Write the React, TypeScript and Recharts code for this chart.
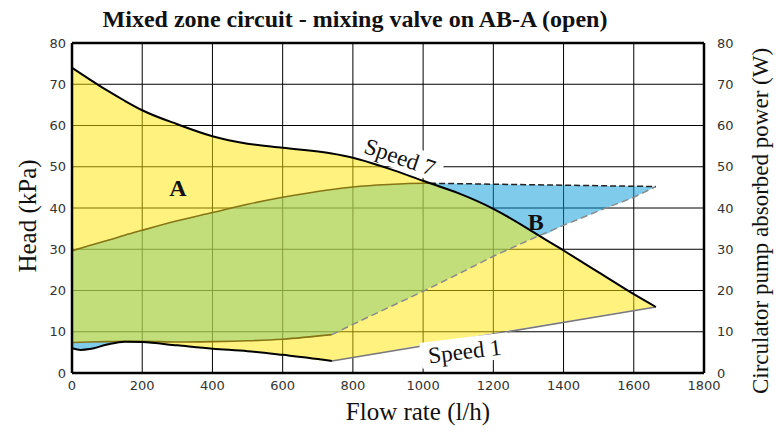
import React from 'react';
import {
  ComposedChart,
  Area,
  Line,
  XAxis,
  YAxis,
  CartesianGrid,
  ReferenceDot,
  ReferenceLine,
} from 'recharts';

// ---- ticks ----
const xTicks = [0, 200, 400, 600, 800, 1000, 1200, 1400, 1600, 1800];
const yTicks = [0, 10, 20, 30, 40, 50, 60, 70, 80];

// ---- yellow zone (between Speed 7 and the minimum curve / Speed 1) ----
const yellowFlow = [0, 50, 100, 150, 200, 300, 400, 500, 600, 740, 800, 900, 1000, 1020, 1100, 1200, 1300, 1330, 1400, 1500, 1600, 1663];
const speed7Head = [74, 71.2, 68.5, 66, 63.7, 60.3, 57.4, 55.6, 54.6, 53.2, 52.2, 49.6, 46.6, 46, 43.6, 39.8, 34.9, 33.3, 29.7, 24.4, 19.1, 16.0];
const yellowLow = [7.4, 7.5, 7.6, 7.7, 7.5, 6.7, 5.9, 5.3, 4.4, 2.9, 3.8, 5.3, 6.9, 7.2, 8.3, 9.7, 11.1, 11.5, 12.5, 13.9, 15.3, 16.0];

// ---- minimum curve (left part of Speed 1) ----
const minFlow = [0, 25, 50, 100, 150, 200, 300, 400, 500, 600, 700, 740];
const minHead = [6.0, 5.6, 5.8, 6.9, 7.6, 7.5, 6.7, 5.9, 5.3, 4.4, 3.4, 2.9];

// ---- Speed 1 straight part ----
const speed1Flow = [740, 1663];
const speed1Head = [2.9, 16.0];

// ---- green zone A ----
const greenFlow = [0, 50, 100, 150, 200, 300, 400, 500, 600, 740, 800, 900, 1000, 1020, 1100, 1200, 1300, 1330];
const greenHigh = [29.6, 30.9, 32.1, 33.4, 34.6, 36.9, 38.9, 40.9, 42.6, 44.5, 45.1, 45.7, 46, 46, 43.6, 39.8, 34.9, 33.3];
const greenLow = [7.4, 7.5, 7.6, 7.7, 7.7, 7.5, 7.6, 7.8, 8.2, 9.3, 11.8, 15.8, 19.8, 20.7, 24, 28.3, 32.2, 33.3];
const greenTopFlow = [0, 50, 100, 150, 200, 300, 400, 500, 600, 740, 800, 900, 1000, 1020];
const greenTopHead = [29.6, 30.9, 32.1, 33.4, 34.6, 36.9, 38.9, 40.9, 42.6, 44.5, 45.1, 45.7, 46, 46];
const greenBottomFlow = [0, 50, 100, 150, 200, 300, 400, 500, 600, 740];
const greenBottomHead = [7.4, 7.5, 7.6, 7.7, 7.7, 7.5, 7.6, 7.8, 8.2, 9.3];

// ---- blue zone B ----
const blueFlow = [1020, 1100, 1200, 1300, 1330, 1400, 1500, 1600, 1663];
const blueHigh = [46, 45.9, 45.8, 45.6, 45.6, 45.5, 45.4, 45.3, 45.2];
const blueLow = [46, 43.6, 39.8, 34.9, 33.3, 35.8, 39.3, 42.6, 45.2];

// ---- small blue band at low flow ----
const bandFlow = [0, 25, 50, 100, 150, 180];
const bandLow = [6.0, 5.6, 5.8, 6.9, 7.6, 7.7];
const bandHigh = [7.4, 7.4, 7.5, 7.6, 7.7, 7.7];

// ---- power curves (dashed, right axis W) ----
const powerLowFlow = [740, 800, 900, 1000, 1100, 1200, 1330, 1400, 1500, 1600, 1663];
const powerLowW = [9.3, 11.8, 15.8, 19.8, 24, 28.3, 33.3, 35.8, 39.3, 42.6, 45.2];
const powerHighFlow = [1020, 1663];
const powerHighW = [46, 45.2];

// ---- annotations ----
const annotations = [
  { text: 'Speed 7', x: 934, y: 52.3, angle: 19, bold: false, box: true },
  { text: 'Speed 1', x: 1119, y: 5.2, angle: -7, bold: false, box: true },
  { text: 'A', x: 302, y: 44.8, angle: 0, bold: true, box: false },
  { text: 'B', x: 1321, y: 36.6, angle: 0, bold: true, box: false },
];

const zip = (xs: number[], ys: number[]) => xs.map((x, i) => ({ x, v: ys[i] }));
const zipRange = (xs: number[], lo: number[], hi: number[]) =>
  xs.map((x, i) => ({ x, r: [lo[i], hi[i]] }));

const yellowData = zipRange(yellowFlow, yellowLow, speed7Head);
const greenData = zipRange(greenFlow, greenLow, greenHigh);
const blueData = zipRange(blueFlow, blueLow, blueHigh);
const bandData = zipRange(bandFlow, bandLow, bandHigh);

const SERIF = '"Liberation Serif", "DejaVu Serif", serif';
const SANS = '"DejaVu Sans", sans-serif';

const tickStyle = { fontFamily: SANS, fontSize: 13, fill: '#333' };

const AnnotationShape = (a: any) => (p: any) => {
  const { cx, cy } = p;
  if (cx == null || cy == null) return <g />;
  const fs = a.bold ? 24 : 23;
  const w = a.text.length * 11.5 + 8;
  return (
    <g transform={`translate(${cx},${cy}) rotate(${a.angle})`}>
      {a.box && <rect x={-w / 2} y={-14} width={w} height={26} fill="#fff" />}
      <text
        x={0}
        y={0}
        textAnchor="middle"
        dominantBaseline="central"
        fontFamily={SERIF}
        fontSize={fs}
        fontWeight={a.bold ? 700 : 400}
        fill="#111"
      >
        {a.text}
      </text>
    </g>
  );
};

export default function App() {
  return (
    <div style={{ position: 'absolute', left: 0, top: 0, width: 776, height: 434, background: '#fff' }}>
      <div
        style={{
          position: 'absolute',
          left: 0,
          width: 710,
          top: 5,
          textAlign: 'center',
          fontFamily: SERIF,
          fontWeight: 700,
          fontSize: 24,
          lineHeight: '28px',
          color: '#111',
        }}
      >
        Mixed zone circuit - mixing valve on AB-A (open)
      </div>
      <ComposedChart width={776} height={434} margin={{ top: 43, right: 0, bottom: 0, left: 0 }}>
        <CartesianGrid yAxisId="left" stroke="#000" strokeWidth={1} />
        <XAxis
          type="number"
          dataKey="x"
          domain={[0, 1800]}
          ticks={xTicks}
          allowDataOverflow
          height={61}
          tickLine={false}
          axisLine={{ stroke: '#000', strokeWidth: 2.5 }}
          tick={tickStyle}
          label={{
            content: (p: any) => {
              const vb = p.viewBox || { x: 72, y: 373, width: 632, height: 61 };
              const cx = vb.x + vb.width / 2 + 30;
              return (
                <text x={cx} y={vb.y + 38} textAnchor="middle" dominantBaseline="central" fontFamily={SERIF} fontSize={25} fill="#111">
                  Flow rate (l/h)
                </text>
              );
            },
          }}
        />
        <YAxis
          yAxisId="left"
          type="number"
          domain={[0, 80]}
          ticks={yTicks}
          width={72}
          tickLine={false}
          tickMargin={0}
          axisLine={{ stroke: '#000', strokeWidth: 2.5 }}
          tick={tickStyle}
          label={{
            content: (p: any) => {
              const vb = p.viewBox || { x: 0, y: 43, width: 72, height: 330 };
              const cx = vb.x + 27;
              const cy = vb.y + vb.height / 2 + 8;
              return (
                <text x={cx} y={cy} transform={`rotate(-90 ${cx} ${cy})`} textAnchor="middle" dominantBaseline="central" fontFamily={SERIF} fontSize={25} fill="#111">
                  Head (kPa)
                </text>
              );
            },
          }}
        />
        <YAxis
          yAxisId="right"
          orientation="right"
          type="number"
          domain={[0, 80]}
          ticks={yTicks}
          width={72}
          tickLine={false}
          tickSize={6}
          tickMargin={7}
          axisLine={{ stroke: '#000', strokeWidth: 2.5 }}
          tick={tickStyle}
          label={{
            content: (p: any) => {
              const vb = p.viewBox || { x: 704, y: 43, width: 72, height: 330 };
              const cx = vb.x + 56;
              const cy = vb.y + vb.height / 2 + 13;
              return (
                <text x={cx} y={cy} transform={`rotate(-90 ${cx} ${cy})`} textAnchor="middle" dominantBaseline="central" fontFamily={SERIF} fontSize={23} fill="#111">
                  Circulator pump absorbed power (W)
                </text>
              );
            },
          }}
        />

        <Area yAxisId="left" data={yellowData} dataKey="r" type="monotone" stroke="none" fill="rgb(255,229,0)" fillOpacity={0.5} isAnimationActive={false} />
        <Area yAxisId="left" data={greenData} dataKey="r" type="monotone" stroke="none" fill="rgb(133,202,118)" fillOpacity={0.5} isAnimationActive={false} />
        <Area yAxisId="left" data={blueData} dataKey="r" type="monotone" stroke="none" fill="rgb(0,151,215)" fillOpacity={0.5} isAnimationActive={false} />
        <Area yAxisId="left" data={bandData} dataKey="r" type="monotone" stroke="none" fill="rgb(0,151,215)" fillOpacity={0.5} isAnimationActive={false} />

        <Line yAxisId="right" data={zip(powerLowFlow, powerLowW)} dataKey="v" type="linear" stroke="#8a8a8a" strokeWidth={1.5} strokeDasharray="7 4" dot={false} activeDot={false} isAnimationActive={false} />
        <Line yAxisId="right" data={zip(powerHighFlow, powerHighW)} dataKey="v" type="linear" stroke="#222" strokeWidth={1.5} strokeDasharray="6 3" dot={false} activeDot={false} isAnimationActive={false} />
        <Line yAxisId="left" data={zip(greenTopFlow, greenTopHead)} dataKey="v" type="monotone" stroke="#857515" strokeWidth={1.6} dot={false} activeDot={false} isAnimationActive={false} />
        <Line yAxisId="left" data={zip(greenBottomFlow, greenBottomHead)} dataKey="v" type="monotone" stroke="#857515" strokeWidth={1.6} dot={false} activeDot={false} isAnimationActive={false} />
        <Line yAxisId="left" data={zip(speed1Flow, speed1Head)} dataKey="v" type="linear" stroke="#7a7a7a" strokeWidth={1.6} dot={false} activeDot={false} isAnimationActive={false} />
        <Line yAxisId="left" data={zip(minFlow, minHead)} dataKey="v" type="monotone" stroke="#000" strokeWidth={2} dot={false} activeDot={false} isAnimationActive={false} />
        <Line yAxisId="left" data={zip(yellowFlow, speed7Head)} dataKey="v" type="monotone" stroke="#000" strokeWidth={2} dot={false} activeDot={false} isAnimationActive={false} />

        <ReferenceLine yAxisId="left" y={80} stroke="#000" strokeWidth={2.5} />

        {annotations.map((a) => (
          <ReferenceDot key={a.text} yAxisId="left" x={a.x} y={a.y} r={0} shape={AnnotationShape(a)} />
        ))}
      </ComposedChart>
    </div>
  );
}
